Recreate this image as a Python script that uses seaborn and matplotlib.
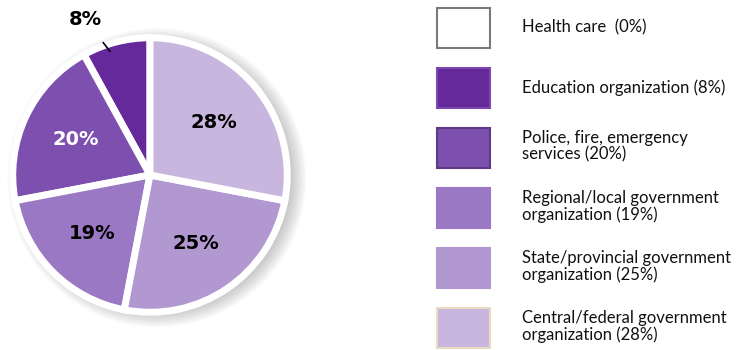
import matplotlib
matplotlib.use("Agg")
import matplotlib.pyplot as plt
from matplotlib.patches import Patch, Circle
import seaborn as sns
import numpy as np

sns.set_theme(style="white")
plt.rcParams["font.family"] = ["Lato", "DejaVu Sans"]

# Sectors of respondents' organizations (counter-clockwise from 12 o'clock)
categories = [
    "Health care  (0%)",
    "Education organization (8%)",
    "Police, fire, emergency\nservices (20%)",
    "Regional/local government\norganization (19%)",
    "State/provincial government\norganization (25%)",
    "Central/federal government\norganization (28%)",
]
shares = [0, 8, 20, 19, 25, 28]
colors = ["#ffffff", "#66299b", "#7d4fae", "#9a78c3", "#b198d1", "#c8b6de"]
edge_colors = ["#7a7a7a", "#7d46b0", "#5e3b86", "#9a78c3", "#b198d1", "#e8dcc0"]
label_colors = ["black", "black", "white", "black", "black", "black"]

fig = plt.figure(figsize=(7.4, 3.5), dpi=100)
ax = fig.add_axes([10 / 740, 35 / 350, 280 / 740, 280 / 350])

# soft drop shadow to the right of the pie
for i in range(10):
    ax.add_patch(Circle((0.05, -0.02), 0.98 + 0.012 * i, color="#444444",
                        alpha=0.03, lw=0, zorder=0, clip_on=False))

wedges, _ = ax.pie(
    shares, colors=colors, startangle=90, counterclock=True,
    radius=1.0, wedgeprops=dict(edgecolor="white", linewidth=5),
)
for w in wedges:
    w.set_zorder(2)
ax.set_xlim(-1.02, 1.02)
ax.set_ylim(-1.02, 1.02)
ax.set_aspect("equal")
ax.axis("off")

# value labels inside the wedges; the small one sits outside with a leader line
label_font = dict(fontsize=14, fontweight="bold", family="DejaVu Sans")
for w, v, c in zip(wedges, shares, label_colors):
    if v == 0:
        continue
    mid = np.deg2rad((w.theta1 + w.theta2) / 2)
    if v < 10:
        ax.annotate(f"{v}%", xy=(0.93 * np.cos(mid) - 0.06, 0.93 * np.sin(mid)),
                    xytext=(-0.47, 1.13), ha="center", va="center", color=c,
                    arrowprops=dict(arrowstyle="-", color="black", lw=1.2,
                                    shrinkA=9, shrinkB=0), zorder=5, **label_font)
    else:
        r = 0.6
        ax.text(r * np.cos(mid), r * np.sin(mid), f"{v}%", ha="center",
                va="center", color=c, zorder=5, **label_font)

handles = [Patch(facecolor=fc, edgecolor=ec, linewidth=1.5)
           for fc, ec in zip(colors, edge_colors)]
fs = 12
px = fs * 100 / 72
hh = (40 / px - 0.245) / 0.65
leg = fig.legend(
    handles, categories, loc="upper left",
    bbox_to_anchor=(437 / 740, 1 - 8 / 350), frameon=False, fontsize=fs,
    handlelength=53 / px, handleheight=hh, handletextpad=32 / px,
    labelspacing=20 / px, borderpad=0, borderaxespad=0,
)
for t in leg.get_texts():
    t.set_linespacing(1.0)
    t.set_color("#111111")

fig.savefig("out.png", dpi=100, facecolor="white")
